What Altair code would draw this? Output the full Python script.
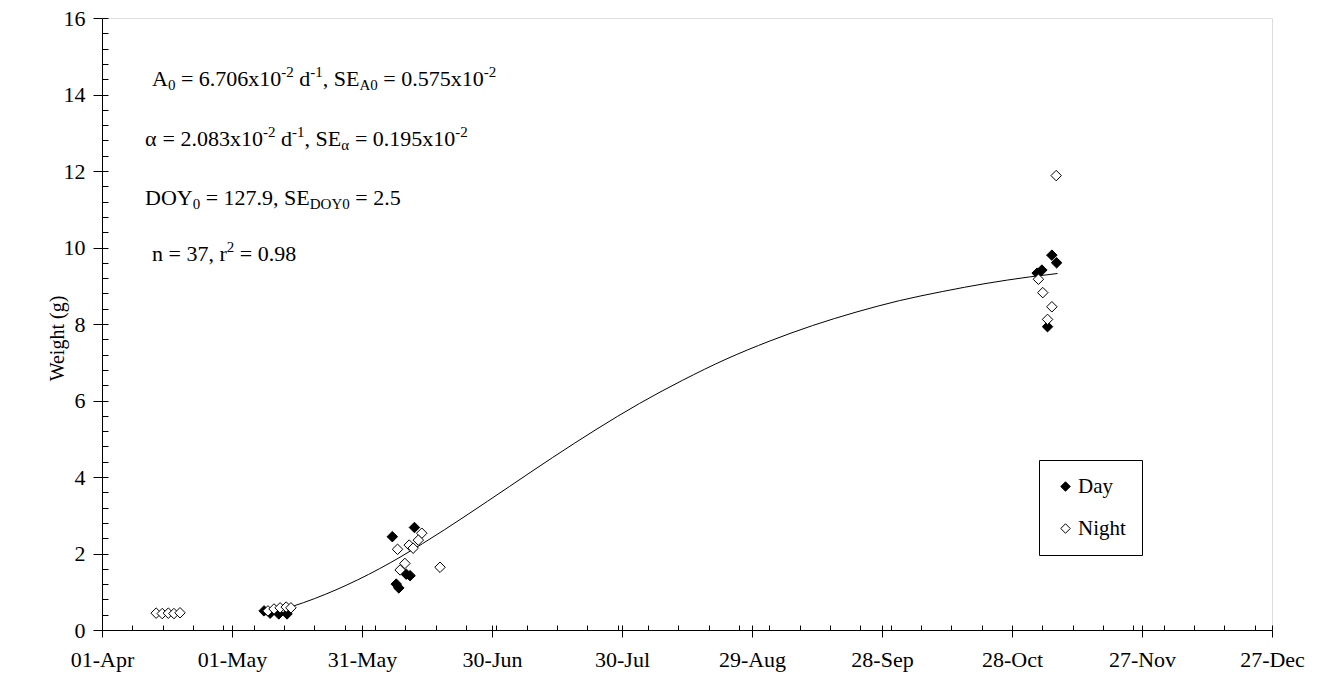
import altair as alt
import pandas as pd

FONT = "Liberation Serif"

# ---------------- data ----------------
major_doy = [91, 121, 151, 181, 211, 241, 271, 301, 331, 361]
major_labels = ["01-Apr", "01-May", "31-May", "30-Jun", "30-Jul",
                "29-Aug", "28-Sep", "28-Oct", "27-Nov", "27-Dec"]
minor_doy = sorted(set(list(range(91, 362, 7)) + major_doy))
y_major = [0, 2, 4, 6, 8, 10, 12, 14, 16]
y_minor = [round(i * 0.4, 1) for i in range(41)]

day_doy = [128.4, 129.8, 131.8, 133.7,
           158.0, 163.1, 161.2, 162.1, 158.9, 159.5,
           310.2, 311.3, 307.9, 306.8, 309.2]
day_w = [0.50, 0.44, 0.42, 0.42,
         2.44, 2.68, 1.46, 1.42, 1.20, 1.10,
         9.80, 9.60, 9.41, 9.33, 7.93]

night_doy = [103.5, 104.9, 106.3, 107.6, 109.0,
             129.3, 130.7, 132.1, 133.5, 134.6,
             164.8, 159.2, 161.9, 164.0, 162.8, 160.9, 159.8, 169.0,
             311.2, 307.1, 308.1, 310.2, 309.2]
night_w = [0.44, 0.43, 0.44, 0.43, 0.45,
           0.50, 0.55, 0.58, 0.60, 0.58,
           2.53, 2.11, 2.22, 2.35, 2.14, 1.74, 1.57, 1.64,
           11.88, 9.17, 8.82, 8.45, 8.12]

curve_doy = [128, 135, 145, 155, 165, 175, 185, 195, 205, 215,
             225, 235, 245, 255, 265, 275, 285, 295, 305, 311.5]
curve_w = [0.40, 0.62, 1.05, 1.60, 2.26, 2.99, 3.75, 4.51, 5.24, 5.92,
           6.53, 7.08, 7.55, 7.96, 8.31, 8.61, 8.85, 9.06, 9.23, 9.32]

series_names = ["Day", "Night"]

annotation_lines = [
    [("A", "n"), ("0", "sub"), (" = 6.706x10", "n"), ("-2", "sup"), (" d", "n"),
     ("-1", "sup"), (", SE", "n"), ("A0", "sub"), (" = 0.575x10", "n"), ("-2", "sup")],
    [("α", "n"), (" = 2.083x10", "n"), ("-2", "sup"), (" d", "n"), ("-1", "sup"),
     (", SE", "n"), ("α", "sub"), (" = 0.195x10", "n"), ("-2", "sup")],
    [("DOY", "n"), ("0", "sub"), (" = 127.9, SE", "n"), ("DOY0", "sub"), (" = 2.5", "n")],
    [("n = 37, r", "n"), ("2", "sup"), (" = 0.98", "n")],
]
annotation_anchor = [(50, 68), (43, 128), (43, 187), (50, 243)]

# ---------------- tables ----------------
pts = pd.DataFrame({
    "doy": day_doy + night_doy,
    "w": day_w + night_w,
    "series": ["Day"] * len(day_doy) + ["Night"] * len(night_doy),
})
curve = pd.DataFrame({"doy": curve_doy, "w": curve_w})

# Times/Liberation Serif advance widths (per 1000 em)
W = {" ": 250, "=": 564, ".": 250, ",": 250, "-": 333, "x": 500, "d": 500,
     "A": 722, "S": 556, "E": 611, "D": 722, "O": 722, "Y": 722, "n": 500,
     "r": 333, "α": 550}
for c in "0123456789":
    W[c] = 500

F_MAIN, F_SMALL = 22, 15


def tw(s, size):
    return sum(W.get(c, 500) for c in s) * size / 1000.0


rows = []
for frags, (x0, y0) in zip(annotation_lines, annotation_anchor):
    x = x0
    for txt, kind in frags:
        size = F_MAIN if kind == "n" else F_SMALL
        dy = 0 if kind == "n" else (4 if kind == "sub" else -9)
        lead = len(txt) - len(txt.lstrip(" "))
        rows.append({"t": txt.strip(" "), "x": x + tw(" " * lead, size),
                     "y": y0 + dy, "s": size})
        x += tw(txt, size)
ann = pd.DataFrame(rows)

# ---------------- chart ----------------
x_scale = alt.Scale(domain=[91, 361], nice=False, zero=False)
y_scale = alt.Scale(domain=[0, 16], nice=False, zero=False)

label_expr = "[" + ",".join(f"'{l}'" for l in major_labels) + "][round((datum.value-91)/30)]"

x_axis = alt.Axis(values=major_doy, labelExpr=label_expr, title=None, tickSize=7,
                  labelPadding=12, labelFontSize=22, labelFont=FONT, labelColor="black",
                  grid=False, domainColor="black", tickColor="black",
                  domainWidth=1, tickWidth=1, labelFlush=False, labelOverlap=False)
y_axis = alt.Axis(values=y_major, title="Weight (g)", tickSize=9, labelPadding=8,
                  labelFontSize=22, labelFont=FONT, labelColor="black",
                  titleFont=FONT, titleFontSize=20, titleFontWeight="normal",
                  titleColor="black", titleX=-35, titleY=320, grid=False,
                  domainColor="black", tickColor="black", domainWidth=1, tickWidth=1)

line = alt.Chart(curve).mark_line(color="black", strokeWidth=1, interpolate="monotone").encode(
    x=alt.X("doy:Q", scale=x_scale, axis=x_axis),
    y=alt.Y("w:Q", scale=y_scale, axis=y_axis),
)

points = alt.Chart(pts).mark_point(shape="diamond", filled=True, size=110, stroke="black",
                                   strokeWidth=1, opacity=1).encode(
    x=alt.X("doy:Q", scale=x_scale),
    y=alt.Y("w:Q", scale=y_scale),
    fill=alt.Fill("series:N",
                  scale=alt.Scale(domain=series_names, range=["black", "white"]),
                  legend=alt.Legend(title=None, orient="none", legendX=937, legendY=442,
                                    strokeColor="black", fillColor="white", padding=16,
                                    rowPadding=20, symbolType="diamond", symbolSize=90,
                                    symbolStrokeColor="black", symbolStrokeWidth=1,
                                    symbolOffset=0, labelOffset=2,
                                    labelFont=FONT, labelFontSize=21, labelColor="black")),
)

minor = alt.Chart(curve).mark_point(opacity=0).encode(
    x=alt.X("doy:Q", scale=x_scale,
            axis=alt.Axis(orient="bottom", values=minor_doy, labels=False, domain=False,
                          tickSize=5, offset=-5, title=None, grid=False,
                          tickColor="black", tickWidth=1)),
    y=alt.Y("w:Q", scale=y_scale,
            axis=alt.Axis(orient="left", values=y_minor, labels=False, domain=False,
                          tickSize=6, offset=-6, title=None, grid=False,
                          tickColor="black", tickWidth=1)),
)

texts = alt.Chart(ann).mark_text(align="left", baseline="alphabetic", font=FONT,
                                 color="black").encode(
    x=alt.X("x:Q", scale=None, axis=None),
    y=alt.Y("y:Q", scale=None, axis=None),
    text="t:N",
    size=alt.Size("s:Q", scale=None),
)

chart = alt.layer(alt.layer(line, points), minor, texts).resolve_scale(
    x="independent", y="independent"
).properties(
    width=1170, height=612,
    padding={"left": 94, "top": 10, "right": 42, "bottom": 45},
    autosize=alt.AutoSizeParams(type="none"),
    background="white",
).configure_view(stroke="transparent").configure(font=FONT)

chart.save("out.html", embed_options={"renderer": "svg", "actions": False})
